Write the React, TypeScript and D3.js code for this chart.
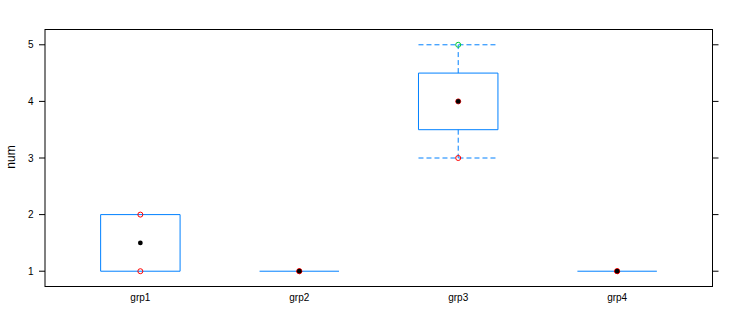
import React from "react";
import * as d3 from "d3";

const categories = ["grp1", "grp2", "grp3", "grp4"];
const groupValues: number[][] = [[1, 2], [1, 1], [3, 4, 5], [1, 1]];
const pointColors: string[][] = [["#ff0000", "#ff0000"], ["#ff0000", "#ff0000"], ["#ff0000", "#ff0000", "#00cc33"], ["#ff0000", "#ff0000"]];
const yTicks = [1, 2, 3, 4, 5];

const W = 742, H = 325;
const L = 45, R = 712.5, T = 29.5, B = 286.5;

function fivenum(v: number[]) {
  const s = v.slice().sort((a, b) => a - b);
  const n = s.length;
  const n4 = Math.floor((n + 3) / 2) / 2;
  const idx = [1, n4, (n + 1) / 2, n + 1 - n4, n];
  return idx.map(i => 0.5 * (s[Math.floor(i) - 1] + s[Math.ceil(i) - 1]));
}

export default function App() {
  const x = d3.scaleLinear().domain([0.4, 4.6]).range([L, R]);
  const y = d3.scaleLinear().domain([0.73, 5.27]).range([B, T]);
  const hw = (x(1.25) - x(1));
  const blue = "#0080ff";
  const font = "Liberation Sans, Arial, sans-serif";
  return (
    <svg width={W} height={H} style={{ position: "absolute", left: 0, top: 0, background: "#fff" }}>
      <rect x={L} y={T} width={R - L} height={B - T} fill="none" stroke="#000" strokeWidth={1} />
      {yTicks.map(t => (
        <g key={t}>
          <line x1={L - 6} x2={L} y1={y(t)} y2={y(t)} stroke="#000" />
          <line x1={R} x2={R + 6} y1={y(t)} y2={y(t)} stroke="#000" />
          <text x={33.5} y={y(t)} dy="0.35em" textAnchor="end" fontSize={10} fontFamily={font} fill="#000">{t}</text>
        </g>
      ))}
      {categories.map((c, i) => (
        <text key={c} x={x(i + 1)} y={301} textAnchor="middle" fontSize={10} fontFamily={font} fill="#000">{c}</text>
      ))}
      <text transform={`translate(15,157) rotate(-90)`} textAnchor="middle" fontSize={12} fontFamily={font} fill="#000">num</text>
      {groupValues.map((vals, i) => {
        const f = fivenum(vals);
        const cx = x(i + 1);
        const p = d3.path();
        p.moveTo(cx - hw, y(f[1]));
        p.lineTo(cx + hw, y(f[1]));
        p.lineTo(cx + hw, y(f[3]));
        p.lineTo(cx - hw, y(f[3]));
        p.closePath();
        return (
          <g key={i}>
            {f[4] > f[3] && <>
              <line x1={cx} x2={cx} y1={y(f[3])} y2={y(f[4])} stroke={blue} strokeDasharray="5,3" />
              <line x1={cx - hw} x2={cx + hw} y1={y(f[4])} y2={y(f[4])} stroke={blue} strokeDasharray="5,3" />
            </>}
            {f[1] > f[0] && <>
              <line x1={cx} x2={cx} y1={y(f[1])} y2={y(f[0])} stroke={blue} strokeDasharray="5,3" />
              <line x1={cx - hw} x2={cx + hw} y1={y(f[0])} y2={y(f[0])} stroke={blue} strokeDasharray="5,3" />
            </>}
            {f[3] > f[1]
              ? <path d={p.toString()} fill="none" stroke={blue} />
              : <line x1={cx - hw} x2={cx + hw} y1={y(f[1])} y2={y(f[1])} stroke={blue} />}
            {vals.map((v, j) => (
              <circle key={j} cx={cx} cy={y(v)} r={2.5} fill="none" stroke={pointColors[i][j]} strokeWidth={1} />
            ))}
            <circle cx={cx} cy={y(f[2])} r={2.4} fill="#000" />
          </g>
        );
      })}
    </svg>
  );
}
